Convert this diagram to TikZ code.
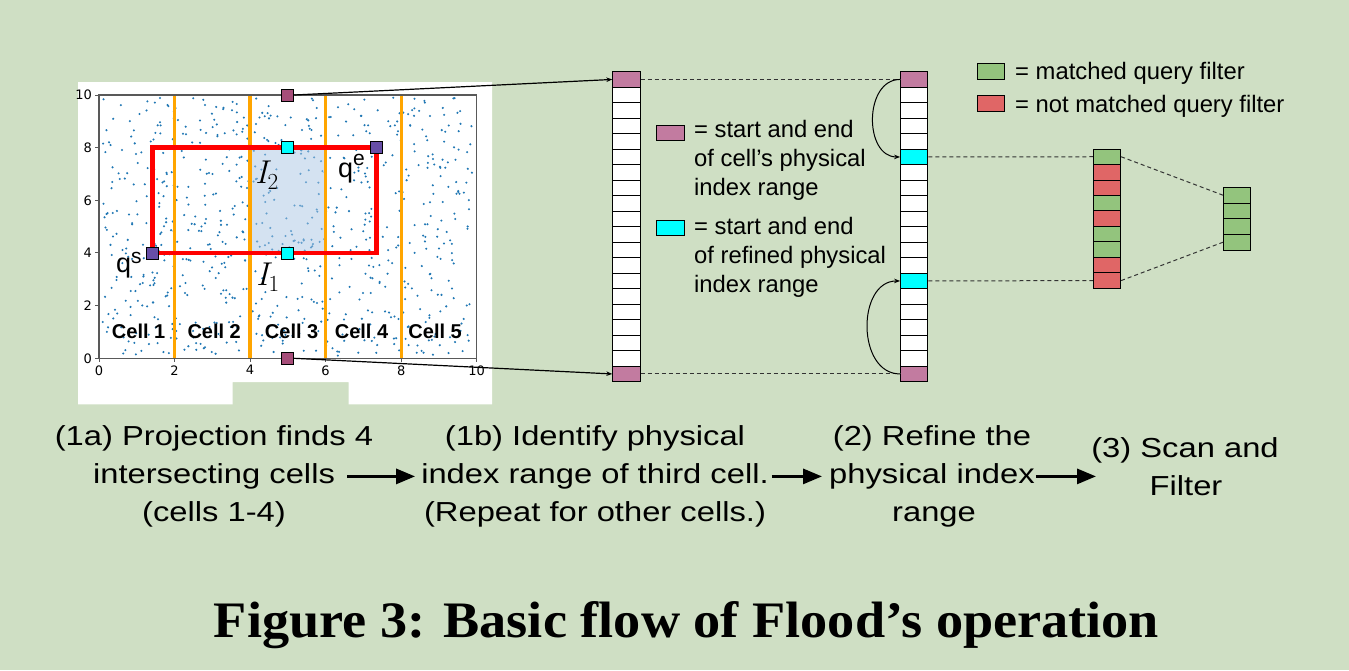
\documentclass[tikz,border=0pt]{standalone}
\usepackage{fontspec}
\setsansfont{Liberation Sans}
\newfontfamily\tickfont{DejaVu Sans}
\newfontfamily\stepfont[FakeStretch=1.19]{Liberation Sans}
\newfontfamily\capfont{Liberation Serif}
\usepackage{xcolor}
\usepackage{tikz}
\usetikzlibrary{arrows.meta,positioning,calc}
\definecolor{bggreen}{RGB}{207,223,196}
\definecolor{dotblue}{RGB}{31,119,180}
\definecolor{shadeblue}{RGB}{171,199,229}
\definecolor{cellorange}{RGB}{255,165,0}
\definecolor{rangepink}{RGB}{194,123,160}
\definecolor{markpink}{RGB}{166,77,121}
\definecolor{refcyan}{RGB}{0,255,255}
\definecolor{qpurple}{RGB}{103,78,167}
\definecolor{okgreen}{RGB}{147,196,125}
\definecolor{badred}{RGB}{224,102,102}
\tikzset{
  idx/.style      ={draw,line width=0.9pt,fill=white,minimum width=27.3pt,minimum height=15.5pt,inner sep=0pt},
  sqmark/.style   ={draw,line width=0.8pt,minimum size=12pt,inner sep=0pt},
  legtext/.style  ={font=\sffamily\fontsize{23.8}{29}\selectfont,align=left,inner sep=0pt},
  steptext/.style ={font=\stepfont\fontsize{27.5}{33}\selectfont,anchor=base,inner sep=0pt},
  steparrow/.style={line width=3pt,-{Triangle[length=19pt,width=15pt]}},
  linkline/.style ={line width=1.2pt,-{Stealth[length=6pt,width=4.5pt]}},
  bendarrow/.style={line width=1pt,-{Stealth[length=6pt,width=4.5pt]}},
  guide/.style    ={line width=1pt,dash pattern=on 4pt off 3pt,black!80},
  celllabel/.style={font=\sffamily\bfseries\fontsize{20}{24}\selectfont,inner sep=0pt},
  tick/.style     ={font=\tickfont\fontsize{13}{15}\selectfont,inner sep=0pt},
  intlabel/.style ={anchor=base west,inner sep=0pt,font=\itshape\fontsize{33}{40}\selectfont},
}
\begin{document}
\begin{tikzpicture}[x=1pt,y=-1pt]
  \useasboundingbox (0,0) rectangle (1349,670);
  \fill[bggreen] (0,0) rectangle (1349,670);
  \fill[white] (78,82) -| (492,404.3) -| (348.7,382) -| (232.7,404.3) -- (78,404.3) -- cycle;

  % scatter plot with the grid cells
  \begin{scope}[shift={(99,358.3)},x=37.77pt,y=26.33pt]
    \pgfmathsetseed{7}
    \foreach \k in {1,...,800}
      \fill[dotblue] ({0.1+9.8*rnd},{0.1+9.8*rnd}) circle[radius=1.15pt];
    \fill[shadeblue,opacity=0.5] (4,4) rectangle (6,8);
    \foreach \x in {2,4,6,8}
      \draw[cellorange,line width=3.3pt] (\x,0) -- (\x,10);
    \draw[red,line width=4.8pt] (1.42,4) rectangle (7.35,8);
    \draw[black!65,line width=1.2pt] (0,0) rectangle (10,10);
    \foreach \t in {0,2,4,6,8,10}{
      \draw[black!65,line width=1pt] (\t,0) -- ++(0,-4pt);
      \node[tick,anchor=north] (xt\t) at ([yshift=-7pt]\t,0) {\t};
      \draw[black!65,line width=1pt] (0,\t) -- ++(-4pt,0);
      \node[tick,anchor=east] (yt\t) at ([xshift=-7pt]0,\t) {\t};
    }
    \foreach \x/\n in {1.05/1,3.05/2,5.1/3,6.95/4,8.9/5}
      \node[celllabel] (cell\n) at (\x,1.01) {Cell \n};
    \node[sqmark,fill=markpink] (mtop) at (5,10) {};
    \node[sqmark,fill=markpink] (mbot) at (5,0) {};
    \node[sqmark,fill=refcyan] (rtop) at (5,8) {};
    \node[sqmark,fill=refcyan] (rbot) at (5,4) {};
    \node[sqmark,fill=qpurple] (qs) at (1.42,4) {};
    \node[sqmark,fill=qpurple] (qe) at (7.35,8) {};
  \end{scope}
  \node[anchor=base west,inner sep=0pt,font=\sffamily\fontsize{27}{30}\selectfont] (qslabel) at (116,272)
    {q\raisebox{9pt}{\fontsize{21}{24}\selectfont s}};
  \node[anchor=base west,inner sep=0pt,font=\sffamily\fontsize{27}{30}\selectfont] (qelabel) at (338,177)
    {q\raisebox{12pt}{\fontsize{21}{24}\selectfont e}};
  \node[intlabel] (itwo) at (255,183) {I\raisebox{-6pt}{\upshape\fontsize{23}{26}\selectfont 2}};
  \node[intlabel] (ione) at (256,285) {I\raisebox{-6pt}{\upshape\fontsize{23}{26}\selectfont 1}};

  % physical index columns
  \foreach \i in {1,...,20}{
    \node[idx] (a\i) at (626.4,{63.95+15.5*\i}) {};
    \node[idx] (b\i) at (914.2,{63.95+15.5*\i}) {};
  }
  \foreach \i in {1,20} \node[idx,fill=rangepink] at (a\i) {};
  \foreach \i/\c in {1/rangepink,20/rangepink,6/refcyan,14/refcyan} \node[idx,fill=\c] at (b\i) {};
  \foreach \i/\c in {1/okgreen,2/badred,3/badred,4/okgreen,5/badred,6/okgreen,7/okgreen,8/badred,9/badred}
    \node[idx,fill=\c,minimum height=15.48pt] (c\i) at (1107,{141.26+15.48*\i}) {};
  \foreach \i in {1,...,4}
    \node[idx,fill=okgreen,minimum height=15.7pt] (d\i) at (1237,{179.45+15.7*\i}) {};

  \draw[linkline] (mtop.east) -- (a1.west);
  \draw[linkline] (mbot.east) -- (a20.west);
  \draw[guide] (a1.east) -- (b1.west);
  \draw[guide] (a20.east) -- (b20.west);
  \draw[guide] (b6.east) -- (c1.west);
  \draw[guide] (b14.east) -- (c9.west);
  \draw[guide] (c1.east) -- (d1.west);
  \draw[guide] (c9.east) -- (d4.west);
  \draw[bendarrow] (b1.west) to[out=180,in=180,looseness=1.2] (b6.west);
  \draw[bendarrow] (b20.west) to[out=180,in=180,looseness=1.2] (b14.west);

  % legends
  \node[idx,fill=rangepink,minimum width=27.6pt,minimum height=15pt] (keypink) at (670.5,132.5) {};
  \node[legtext,anchor=west] (keypinktext) at (694,160) {= start and end\\of cell’s physical\\index range};
  \node[idx,fill=refcyan,minimum width=27.6pt,minimum height=15pt] (keycyan) at (670.5,228.3) {};
  \node[legtext,anchor=west] (keycyantext) at (694,257) {= start and end\\of refined physical\\index range};
  \node[idx,fill=okgreen,minimum width=27pt,minimum height=16pt] (keygreen) at (990.8,71.3) {};
  \node[legtext,anchor=base west] (keygreentext) at (1015,79.5) {= matched query filter};
  \node[idx,fill=badred,minimum width=27pt,minimum height=16pt] (keyred) at (990.8,103.7) {};
  \node[legtext,anchor=base west] (keyredtext) at (1015,112) {= not matched query filter};

  % steps
  \node[steptext] (s1a) at (214,445.5) {(1a) Projection finds 4};
  \node[steptext] (s1b) at (214,483.5) {intersecting cells};
  \node[steptext] (s1c) at (214,521.5) {(cells 1-4)};
  \node[steptext] (s2a) at (595,445.5) {(1b) Identify physical};
  \node[steptext] (s2b) at (595,483.5) {index range of third cell.};
  \node[steptext] (s2c) at (595,521.5) {(Repeat for other cells.)};
  \node[steptext] (s3a) at (932,445.5) {(2) Refine the};
  \node[steptext] (s3b) at (932,483.5) {physical index};
  \node[steptext] (s3c) at (934,521.5) {range};
  \node[steptext] (s4a) at (1185,457.5) {(3) Scan and};
  \node[steptext] (s4b) at (1186,495.5) {Filter};
  \coordinate (tip4) at (1096,474);
  \draw[steparrow] ([xshift=12pt]s1b.east) -- ([xshift=-6pt]s2b.west);
  \draw[steparrow] ([xshift=3pt]s2b.east) -- ([xshift=-7pt]s3b.west);
  \draw[steparrow] ([xshift=1pt]s3b.east) -- (s3b.east -| tip4);

  \node[anchor=base,inner sep=0pt] (caption) at (686.5,637)
    {\resizebox{945pt}{36pt}{\capfont\bfseries Figure 3: Basic flow of Flood’s operation}};
\end{tikzpicture}
\end{document}
